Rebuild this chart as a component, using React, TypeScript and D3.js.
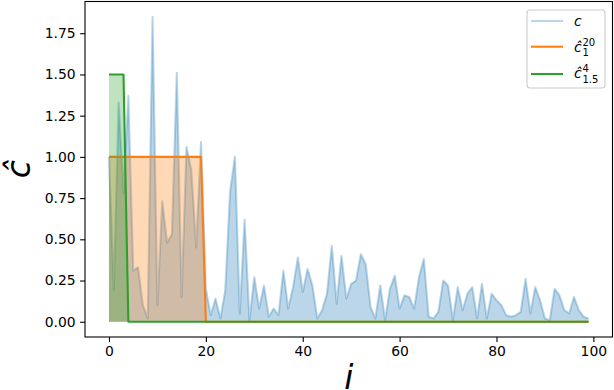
import React, { useRef, useEffect } from 'react';
import * as d3 from 'd3';

// c: noisy signal (i = 0..99)
const cValues = [
  1.0, 0.19, 1.33, 0.78, 1.37, 0.31, 0.33, 0.1, 0.02, 1.85,
  0.1, 0.73, 0.48, 0.53, 1.51, 0.15, 1.06, 0.92, 0.45, 1.09,
  0.2, 0.04, 0.14, 0.02, 0.19, 0.79, 1.0, 0.05, 0.62, 0.01,
  0.27, 0.08, 0.22, 0.03, 0.08, 0.04, 0.31, 0.08, 0.21, 0.39,
  0.18, 0.32, 0.22, 0.02, 0.07, 0.17, 0.46, 0.11, 0.4, 0.14,
  0.23, 0.25, 0.41, 0.35, 0.09, 0.02, 0.22, 0.01, 0.2, 0.28,
  0.08, 0.16, 0.15, 0.08, 0.27, 0.38, 0.03, 0.02, 0.06, 0.25,
  0.22, 0.01, 0.21, 0.07, 0.17, 0.21, 0.02, 0.23, 0.02, 0.17,
  0.13, 0.1, 0.04, 0.03, 0.04, 0.06, 0.26, 0.05, 0.21, 0.13,
  0.02, 0.01, 0.2, 0.16, 0.07, 0.05, 0.15, 0.07, 0.03, 0.02,
];

// ĉ_1^20: height 1 over the first 20 samples
const c1_20 = [
  1, 1, 1, 1, 1, 1, 1, 1, 1, 1, 1, 1, 1, 1, 1, 1, 1, 1, 1, 1,
  0, 0, 0, 0, 0, 0, 0, 0, 0, 0, 0, 0, 0, 0, 0, 0, 0, 0, 0, 0,
  0, 0, 0, 0, 0, 0, 0, 0, 0, 0, 0, 0, 0, 0, 0, 0, 0, 0, 0, 0,
  0, 0, 0, 0, 0, 0, 0, 0, 0, 0, 0, 0, 0, 0, 0, 0, 0, 0, 0, 0,
  0, 0, 0, 0, 0, 0, 0, 0, 0, 0, 0, 0, 0, 0, 0, 0, 0, 0, 0, 0,
];

// ĉ_1.5^4: height 1.5 over the first 4 samples
const c15_4 = [
  1.5, 1.5, 1.5, 1.5, 0, 0, 0, 0, 0, 0, 0, 0, 0, 0, 0, 0, 0, 0, 0, 0,
  0, 0, 0, 0, 0, 0, 0, 0, 0, 0, 0, 0, 0, 0, 0, 0, 0, 0, 0, 0,
  0, 0, 0, 0, 0, 0, 0, 0, 0, 0, 0, 0, 0, 0, 0, 0, 0, 0, 0, 0,
  0, 0, 0, 0, 0, 0, 0, 0, 0, 0, 0, 0, 0, 0, 0, 0, 0, 0, 0, 0,
  0, 0, 0, 0, 0, 0, 0, 0, 0, 0, 0, 0, 0, 0, 0, 0, 0, 0, 0, 0,
];

const xTicks = [0, 20, 40, 60, 80, 100];
const yTicks = [0, 0.25, 0.5, 0.75, 1.0, 1.25, 1.5, 1.75];

const FONT = "'DejaVu Sans', sans-serif";

const App = () => {
  const ref = useRef<SVGSVGElement>(null);

  useEffect(() => {
    const width = 614;
    const height = 390;
    const box = { left: 85, right: 612.5, top: 1.5, bottom: 337 };

    const svg = d3.select(ref.current).attr('width', width).attr('height', height);
    svg.selectAll('*').remove();

    const n = cValues.length;
    const xPad = (n - 1) * 0.05;
    const yMax = d3.max(cValues) as number;
    const yPad = yMax * 0.05;

    const x = d3.scaleLinear().domain([-xPad, n - 1 + xPad]).range([box.left, box.right]);
    const y = d3.scaleLinear().domain([-yPad, yMax + yPad]).range([box.bottom, box.top]);

    const series = [
      { values: cValues, color: '#1f77b4', lineAlpha: 0.3 },
      { values: c1_20, color: '#ff7f0e', lineAlpha: 1 },
      { values: c15_4, color: '#2ca02c', lineAlpha: 1 },
    ];

    const plot = svg.append('g');
    series.forEach(s => {
      const area = d3.area<number>()
        .x((d, i) => x(i))
        .y0(y(0))
        .y1(d => y(d));
      const line = d3.line<number>()
        .x((d, i) => x(i))
        .y(d => y(d));
      plot.append('path')
        .attr('d', area(s.values))
        .attr('fill', s.color)
        .attr('fill-opacity', 0.3);
      plot.append('path')
        .attr('d', line(s.values))
        .attr('fill', 'none')
        .attr('stroke', s.color)
        .attr('stroke-opacity', s.lineAlpha)
        .attr('stroke-width', 2.08)
        .attr('stroke-linejoin', 'round');
    });

    // axes frame
    svg.append('rect')
      .attr('x', box.left)
      .attr('y', box.top)
      .attr('width', box.right - box.left)
      .attr('height', box.bottom - box.top)
      .attr('fill', 'none')
      .attr('stroke', '#000')
      .attr('stroke-width', 1.1);

    // x axis
    const xAxis = svg.append('g')
      .attr('transform', `translate(0,${box.bottom})`)
      .call(d3.axisBottom(x).tickValues(xTicks).tickSize(4.9).tickPadding(4.5).tickFormat(d3.format('d')));
    xAxis.select('.domain').remove();

    // y axis
    const yAxis = svg.append('g')
      .attr('transform', `translate(${box.left},0)`)
      .call(d3.axisLeft(y).tickValues(yTicks).tickSize(4.9).tickPadding(4.5).tickFormat(d3.format('.2f')));
    yAxis.select('.domain').remove();

    svg.selectAll('.tick line').attr('stroke', '#000').attr('stroke-width', 1.1);
    svg.selectAll('.tick text')
      .attr('fill', '#000')
      .style('font-family', FONT)
      .style('font-size', '13.9px');

    // axis labels
    svg.append('text')
      .attr('x', (box.left + box.right) / 2)
      .attr('y', 389)
      .attr('text-anchor', 'middle')
      .style('font-family', FONT)
      .style('font-style', 'italic')
      .style('font-size', '33px')
      .text('i');

    svg.append('text')
      .attr('transform', `translate(30,${(box.top + box.bottom) / 2}) rotate(-90)`)
      .attr('text-anchor', 'middle')
      .style('font-family', FONT)
      .style('font-style', 'italic')
      .style('font-size', '33px')
      .text('ĉ');

    // legend
    const legend = svg.append('g');
    legend.append('rect')
      .attr('x', 527)
      .attr('y', 10)
      .attr('width', 78)
      .attr('height', 78)
      .attr('rx', 3)
      .attr('fill', '#fff')
      .attr('fill-opacity', 0.8)
      .attr('stroke', '#cccccc')
      .attr('stroke-width', 1.1);

    const legendRows = [
      { lineY: 21, base: 25.5, sup: '', sub: '', s: series[0] },
      { lineY: 46.7, base: 51.5, sup: '20', sub: '1', s: series[1] },
      { lineY: 74, base: 78, sup: '4', sub: '1.5', s: series[2] },
    ];
    legendRows.forEach(r => {
      legend.append('line')
        .attr('x1', 531).attr('x2', 563)
        .attr('y1', r.lineY).attr('y2', r.lineY)
        .attr('stroke', r.s.color)
        .attr('stroke-opacity', r.s.lineAlpha)
        .attr('stroke-width', 2.08);
      legend.append('text')
        .attr('x', 574)
        .attr('y', r.base)
        .style('font-family', FONT)
        .style('font-style', 'italic')
        .style('font-size', '13.9px')
        .text(r.sup ? 'ĉ' : 'c');
      if (r.sup) {
        legend.append('text')
          .attr('x', 582.5)
          .attr('y', r.base - 6)
          .style('font-family', FONT)
          .style('font-size', '10px')
          .text(r.sup);
        legend.append('text')
          .attr('x', 582.5)
          .attr('y', r.base + 4.5)
          .style('font-family', FONT)
          .style('font-size', '10px')
          .text(r.sub);
      }
    });
  }, []);

  return (
    <div style={{ position: 'absolute', left: 0, top: 0 }}>
      <svg ref={ref}></svg>
    </div>
  );
};

export default App;
